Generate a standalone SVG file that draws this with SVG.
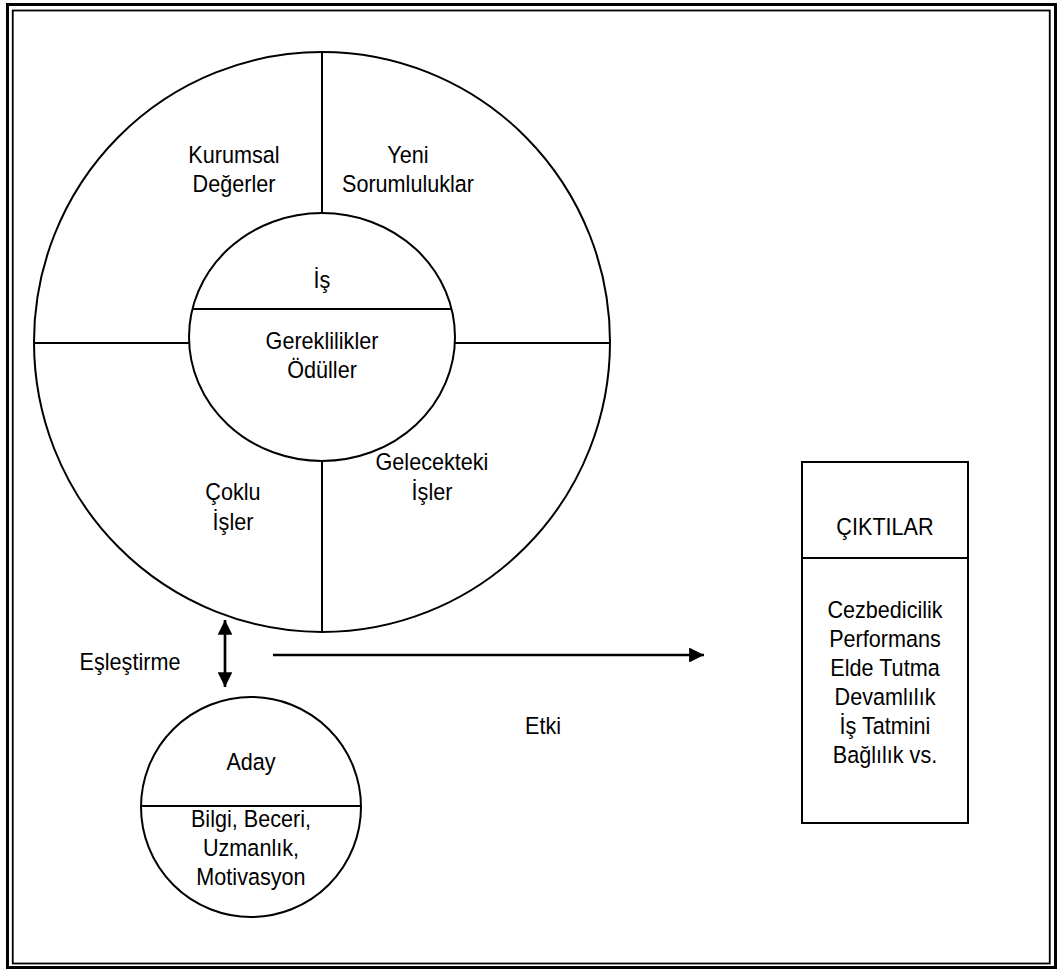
<svg xmlns="http://www.w3.org/2000/svg" width="1061" height="969" viewBox="0 0 1061 969">
<defs>
<style>
.ln{fill:none;stroke:#000;stroke-width:2}
.t{font-family:"Liberation Sans",Arial,sans-serif;font-size:23.5px;fill:#000;text-anchor:middle;transform-box:fill-box;transform-origin:center;transform:scaleX(0.92)}
</style>
<marker id="ah" viewBox="0 0 10 10" refX="10" refY="5" markerWidth="5.5" markerHeight="5.5" orient="auto-start-reverse" markerUnits="strokeWidth">
<path d="M0,0 L10,5 L0,10 Z" fill="#000"/>
</marker>
</defs>
<rect width="1061" height="969" fill="#fff"/>
<g id="border">
<rect x="7.5" y="4.5" width="1048" height="963" fill="none" stroke="#000" stroke-width="3"/>
<rect x="12.75" y="10.5" width="1037" height="953" fill="none" stroke="#000" stroke-width="1.8"/>
</g>
<g id="outer-circle">
<ellipse class="ln" cx="322" cy="342" rx="288" ry="290"/>
<line class="ln" x1="322" y1="52" x2="322" y2="214"/>
<line class="ln" x1="322" y1="460" x2="322" y2="632"/>
<line class="ln" x1="34" y1="343" x2="190" y2="343"/>
<line class="ln" x1="455" y1="343" x2="610" y2="343"/>
<text class="t" x="234" y="163">Kurumsal</text>
<text class="t" x="234" y="192">Değerler</text>
<text class="t" x="408" y="163">Yeni</text>
<text class="t" x="408" y="192">Sorumluluklar</text>
<text class="t" x="233" y="500">Çoklu</text>
<text class="t" x="233" y="530">İşler</text>
<text class="t" x="432" y="470">Gelecekteki</text>
<text class="t" x="432" y="500">İşler</text>
</g>
<g id="is">
<ellipse class="ln" cx="322" cy="337" rx="133" ry="124"/>
<line class="ln" x1="192" y1="309" x2="452" y2="309"/>
<text class="t" x="322" y="288">İş</text>
<text class="t" x="322" y="349">Gereklilikler</text>
<text class="t" x="322" y="378">Ödüller</text>
</g>
<g id="aday">
<ellipse class="ln" cx="251" cy="807" rx="110" ry="110"/>
<line class="ln" x1="141" y1="806" x2="361" y2="806"/>
<text class="t" x="251" y="770">Aday</text>
<text class="t" x="251" y="827">Bilgi, Beceri,</text>
<text class="t" x="251" y="856">Uzmanlık,</text>
<text class="t" x="251" y="885">Motivasyon</text>
</g>
<g id="ciktilar">
<rect class="ln" x="802" y="462" width="166" height="361"/>
<line class="ln" x1="802" y1="558" x2="968" y2="558"/>
<text class="t" x="885" y="535">ÇIKTILAR</text>
<text class="t" x="885" y="618">Cezbedicilik</text>
<text class="t" x="885" y="647">Performans</text>
<text class="t" x="885" y="676">Elde Tutma</text>
<text class="t" x="885" y="705">Devamlılık</text>
<text class="t" x="885" y="734">İş Tatmini</text>
<text class="t" x="885" y="763">Bağlılık vs.</text>
</g>
<g id="connectors">
<line x1="225" y1="620" x2="225" y2="687" stroke="#000" stroke-width="2.7" marker-start="url(#ah)" marker-end="url(#ah)"/>
<line x1="273" y1="655" x2="704" y2="655" stroke="#000" stroke-width="2.7" marker-end="url(#ah)"/>
<text class="t" x="130" y="670">Eşleştirme</text>
<text class="t" x="543" y="734">Etki</text>
</g>
</svg>
